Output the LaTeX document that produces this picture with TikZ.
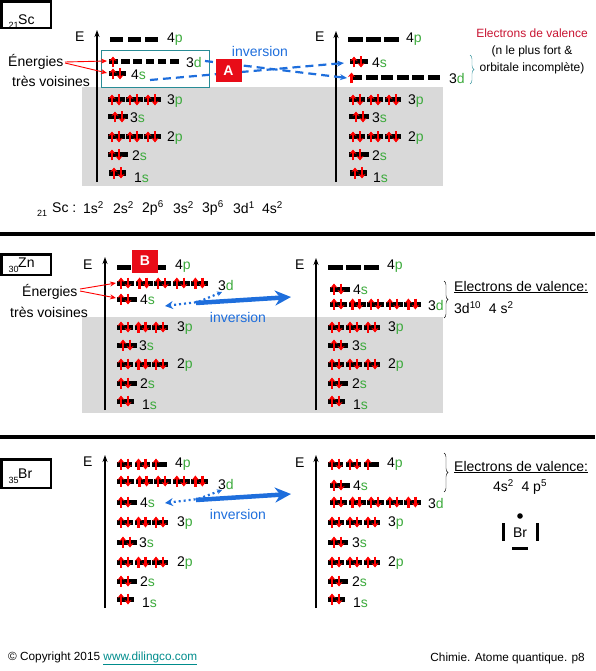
\documentclass[tikz,border=0pt]{standalone}
\usepackage{fontspec}
\setmainfont{Liberation Sans}
\usetikzlibrary{arrows.meta,decorations.pathreplacing}
\definecolor{lgreen}{RGB}{60,170,60}
\definecolor{ablue}{RGB}{30,110,220}
\definecolor{ared}{RGB}{232,12,24}
\definecolor{bgray}{RGB}{217,217,217}
\definecolor{tealbox}{RGB}{40,140,150}
\definecolor{crim}{RGB}{200,20,50}
\definecolor{linkc}{RGB}{0,140,140}
\newcommand\orb[5][4]{%
  \fill[black] (#2,#3-2.5) rectangle ++(#4,5);
  \ifnum#5>0 \draw[eup] (#2+#1,#3+5.5) -- (#2+#1,#3-5.5);\fi
  \ifnum#5>1 \draw[eup] (#2+#1+7,#3-5.5) -- (#2+#1+7,#3+5.5);\fi
}
\newcommand\shl[4]{\node[lbl] (#1) at (#2) {#3{\color{lgreen}#4}};}
\tikzset{
  lbl/.style={anchor=west},
  eup/.style={red, line width=2.3pt, -{Stealth[length=4.5pt,width=7pt]}},
  axisarr/.style={line width=1.6pt, -{Stealth[length=7pt,width=5pt]}},
  redarr/.style={red, line width=0.9pt, -{Stealth[length=6pt,width=5pt]}},
  bdash/.style={ablue, line width=2.2pt, dash pattern=on 8pt off 5pt, -{Stealth[length=7pt,width=6pt]}},
  bdot/.style={ablue, line width=2.2pt, dash pattern=on 2pt off 3pt, {Stealth[length=5pt,width=5pt]}-{Stealth[length=8pt,width=8pt]}},
  bthick/.style={ablue, line width=4.5pt, -{Stealth[length=16pt,width=15pt]}},
  redbox/.style={fill=ared, text=white, font=\fontsize{14}{16}\selectfont\bfseries, minimum width=26pt, minimum height=23pt},
  inv/.style={text=ablue},
  elbox/.style={draw, line width=2.4pt},
  sep/.style={line width=4pt},
  sub/.style={anchor=west, font=\fontsize{9}{10}\selectfont},
  foot/.style={font=\fontsize{11.8}{13}\selectfont},
}
\begin{document}
\begin{tikzpicture}[x=1pt,y=-1pt, every node/.style={inner sep=0pt, font=\fontsize{14}{16.8}\selectfont}]
\useasboundingbox (0,0) rectangle (595,671);
% ================= PANEL 1 : Sc =================
\fill[bgray] (82,87) rectangle (443,186);
\draw[tealbox, line width=0.8pt] (101,50) rectangle (209,87);
\draw[elbox] (1.5,1.5) rectangle (51,28);
\node[sub] (scz) at (8.5,25) {21};
\node[lbl] (scn) at (18,19.5) {Sc};
% left
\node[lbl] (sLE) at (75,37) {E};
\draw[axisarr] (97,182) -- (97,30);
\foreach \i in {0,1,2} {\orb{110+\i*17.5}{40}{13}{0}}
\shl{sL4p}{167,39}{4}{p}
\foreach \i/\e in {0/1,1/0,2/0,3/0,4/0,5/0} {\orb{109+\i*12.2}{62}{8.5}{\e}}
\shl{sL3d}{186,62}{3}{d}
\orb{109}{74}{17}{2}
\shl{sL4s}{131,75}{4}{s}
\foreach \i in {0,1,2} {\orb{108+\i*18}{100}{17}{2}}
\shl{sL3p}{167,101}{3}{p}
\orb[7]{108}{117}{20}{2}
\shl{sL3s}{130,118}{3}{s}
\foreach \i in {0,1,2} {\orb{108+\i*18}{137}{17}{2}}
\shl{sL2p}{167,138}{2}{p}
\orb{108}{155}{20}{2}
\shl{sL2s}{132,156}{2}{s}
\orb[5]{109}{173}{17}{2}
\shl{sL1s}{134,178}{1}{s}
\node[lbl] (enA) at (8,62) {Énergies};
\node[lbl] (tvA) at (12,81) {très voisines};
\draw[redarr] (65,62) -- (107,61);
\draw[redarr] (65,63) -- (107,73);
% right
\node[lbl] (sRE) at (315,37) {E};
\draw[axisarr] (336,182) -- (336,31);
\foreach \i in {0,1,2} {\orb{348+\i*18}{40}{15}{0}}
\shl{sR4p}{406,39}{4}{p}
\orb{350}{62}{18}{2}
\shl{sR4s}{372,63}{4}{s}
\foreach \i/\e in {0/1,1/0,2/0,3/0,4/0,5/0} {\orb[1.5]{350+\i*15.5}{78}{12}{\e}}
\shl{sR3d}{449,78}{3}{d}
\foreach \i in {0,1,2} {\orb{349+\i*18}{100}{16}{2}}
\shl{sR3p}{408,101}{3}{p}
\orb[7]{349}{117}{20}{2}
\shl{sR3s}{372,118}{3}{s}
\foreach \i in {0,1,2} {\orb{349+\i*18}{137}{16}{2}}
\shl{sR2p}{408,138}{2}{p}
\orb{349}{155}{20}{2}
\shl{sR2s}{372,156}{2}{s}
\orb[5]{350}{173}{17}{2}
\shl{sR1s}{373,178}{1}{s}
\draw[tealbox, decorate, decoration={brace, amplitude=4pt}] (470,55) -- (470,84);
\node[text=crim, font=\fontsize{12}{14}\selectfont] (evA) at (532,33) {Electrons de valence};
\node[font=\fontsize{12}{14}\selectfont] (evA2) at (532,51) {(n le plus fort \&};
\node[font=\fontsize{12}{14}\selectfont] (evA3) at (532,68) {orbitale incomplète)};
% inversion
\coordinate (d3L) at (205,61);
\coordinate (d3R) at (347,78);
\coordinate (s4L) at (150,80);
\coordinate (s4R) at (344,63);
\draw[bdash] (d3L) -- (d3R);
\draw[bdash] (s4L) -- (s4R);
\node[redbox] (boxA) at (228.5,70.5) {A};
\node[inv] (invA) at (260,51) {inversion};
% configuration
\node[sub] (c0) at (37,213) {21};
\node[lbl] (c1) at (52,208) {Sc :};
\node[lbl] (c2) at (83,208) {1s\textsuperscript{2}};
\node[lbl] (c3) at (113,208) {2s\textsuperscript{2}};
\node[lbl] (c4) at (142,208) {2p\textsuperscript{6}};
\node[lbl] (c5) at (173,208) {3s\textsuperscript{2}};
\node[lbl] (c6) at (202,208) {3p\textsuperscript{6}};
\node[lbl] (c7) at (233,208) {3d\textsuperscript{1}};
\node[lbl] (c8) at (262,208) {4s\textsuperscript{2}};
\draw[sep] (0,234) -- (595,234);
% ================= PANEL 2 : Zn =================
\fill[bgray] (82,317) rectangle (443,413);
\draw[elbox] (1.5,254.5) rectangle (51,275);
\node[sub] (znz) at (8.5,269) {30};
\node[lbl] (znn) at (18,263) {Zn};
\node[lbl] (zLE) at (83,265) {E};
\draw[axisarr] (105,410) -- (105,257);
\foreach \i in {0,1,2} {\orb{117+\i*17.5}{267}{14}{0}}
\node[redbox] (boxB) at (145,261) {B};
\shl{zL4p}{175,266}{4}{p}
\foreach \i in {0,...,4} {\orb{117+\i*18.6}{283}{17}{2}}
\shl{zL3d}{218,285}{3}{d}
\orb{117}{299}{20}{2}
\shl{zL4s}{140,300}{4}{s}
\foreach \i in {0,1,2} {\orb{117+\i*17.5}{327}{16}{2}}
\shl{zL3p}{177,328}{3}{p}
\orb[6]{117}{345}{20}{2}
\shl{zL3s}{139,346}{3}{s}
\foreach \i in {0,1,2} {\orb{117+\i*17.5}{364}{16}{2}}
\shl{zL2p}{177,365}{2}{p}
\orb{117}{383}{20}{2}
\shl{zL2s}{140,384}{2}{s}
\orb{117}{401}{17}{2}
\shl{zL1s}{142,405}{1}{s}
\node[lbl] (enB) at (22,292) {Énergies};
\node[lbl] (tvB) at (10,312) {très voisines};
\draw[redarr] (80,289) -- (116,283);
\draw[redarr] (80,291) -- (116,298);
\coordinate (zd3) at (222,292);
\coordinate (zk) at (198,302);
\coordinate (zs4) at (165,306);
\draw[bdot] (zd3) -- (zk) -- (zs4);
\coordinate (zt1) at (196,303);
\coordinate (zt2) at (291,297);
\draw[bthick] (zt1) -- (zt2);
\node[inv] (invB) at (238,317) {inversion};
% right
\node[lbl] (zRE) at (295,265) {E};
\draw[axisarr] (316,410) -- (316,258);
\foreach \i in {0,1,2} {\orb{328+\i*18}{267}{15}{0}}
\shl{zR4p}{387,266}{4}{p}
\orb{330}{289}{20}{2}
\shl{zR4s}{353,290}{4}{s}
\foreach \i in {0,...,4} {\orb{330+\i*18.6}{304}{17}{2}}
\shl{zR3d}{428,305}{3}{d}
\foreach \i in {0,1,2} {\orb{328+\i*18}{327}{16}{2}}
\shl{zR3p}{388,328}{3}{p}
\orb[6]{328}{345}{20}{2}
\shl{zR3s}{352,346}{3}{s}
\foreach \i in {0,1,2} {\orb{328+\i*18}{364}{16}{2}}
\shl{zR2p}{388,365}{2}{p}
\orb{328}{383}{20}{2}
\shl{zR2s}{352,384}{2}{s}
\orb{328}{401}{17}{2}
\shl{zR1s}{353,405}{1}{s}
\draw[decorate, decoration={brace, amplitude=4pt}] (444,281) -- (444,318);
\node[lbl] (evB) at (454,287) {\underline{Electrons de valence:}};
\node[lbl] (evB2) at (454,308) {3d\textsuperscript{10}\ \ 4 s\textsuperscript{2}};
\draw[sep] (0,437) -- (595,437);
% ================= PANEL 3 : Br =================
\draw[elbox] (1.5,459.5) rectangle (51,488);
\node[sub] (brz) at (8.5,480) {35};
\node[lbl] (brn) at (18,474) {Br};
\node[lbl] (bLE) at (83,462) {E};
\draw[axisarr] (105,608) -- (105,455);
\foreach \i/\e in {0/2,1/2,2/1} {\orb{117+\i*17.5}{464}{15}{\e}}
\shl{bL4p}{175,464}{4}{p}
\foreach \i in {0,...,4} {\orb{117+\i*18.6}{481}{17}{2}}
\shl{bL3d}{218,484}{3}{d}
\orb{117}{502}{20}{2}
\shl{bL4s}{140,503}{4}{s}
\foreach \i in {0,1,2} {\orb{117+\i*17.5}{522}{16}{2}}
\shl{bL3p}{177,523}{3}{p}
\orb[6]{117}{542}{20}{2}
\shl{bL3s}{139,543}{3}{s}
\foreach \i in {0,1,2} {\orb{117+\i*17.5}{562}{16}{2}}
\shl{bL2p}{177,563}{2}{p}
\orb{117}{581}{20}{2}
\shl{bL2s}{140,582}{2}{s}
\orb{117}{599}{17}{2}
\shl{bL1s}{142,603}{1}{s}
\coordinate (bd3) at (222,490);
\coordinate (bk) at (198,499);
\coordinate (bs4) at (165,503);
\draw[bdot] (bd3) -- (bk) -- (bs4);
\coordinate (bt1) at (196,500);
\coordinate (bt2) at (291,494);
\draw[bthick] (bt1) -- (bt2);
\node[inv] (invC) at (238,514) {inversion};
% right
\node[lbl] (bRE) at (295,463) {E};
\draw[axisarr] (316,608) -- (316,455);
\foreach \i/\e in {0/2,1/2,2/1} {\orb{328+\i*18}{464}{15}{\e}}
\shl{bR4p}{387,464}{4}{p}
\orb{330}{485}{20}{2}
\shl{bR4s}{353,486}{4}{s}
\foreach \i in {0,...,4} {\orb{330+\i*18.6}{502}{17}{2}}
\shl{bR3d}{428,503}{3}{d}
\foreach \i in {0,1,2} {\orb{328+\i*18}{522}{16}{2}}
\shl{bR3p}{388,523}{3}{p}
\orb[6]{328}{542}{20}{2}
\shl{bR3s}{352,543}{3}{s}
\foreach \i in {0,1,2} {\orb{328+\i*18}{562}{16}{2}}
\shl{bR2p}{388,563}{2}{p}
\orb{328}{581}{20}{2}
\shl{bR2s}{352,582}{2}{s}
\orb{328}{599}{17}{2}
\shl{bR1s}{353,603}{1}{s}
\draw[decorate, decoration={brace, amplitude=4pt}] (444,453) -- (444,492);
\node[lbl] (evC) at (454,467) {\underline{Electrons de valence:}};
\node (evC2) at (520,487) {4s\textsuperscript{2}\ \ 4 p\textsuperscript{5}};
% Lewis
\fill (520,516) circle (2.8);
\node (lewis) at (520,533) {Br};
\draw[line width=3pt] (503,523) -- (503,541);
\draw[line width=3pt] (537,523) -- (537,541);
\draw[line width=3pt] (512,548) -- (528,548);
% footer
\node[lbl, foot] (copy) at (8,658) {© Copyright 2015 \textcolor{linkc}{\underline{www.dilingco.com}}};
\node[anchor=east, foot] (chim) at (585,658) {Chimie. Atome quantique. p8};
\end{tikzpicture}
\end{document}
